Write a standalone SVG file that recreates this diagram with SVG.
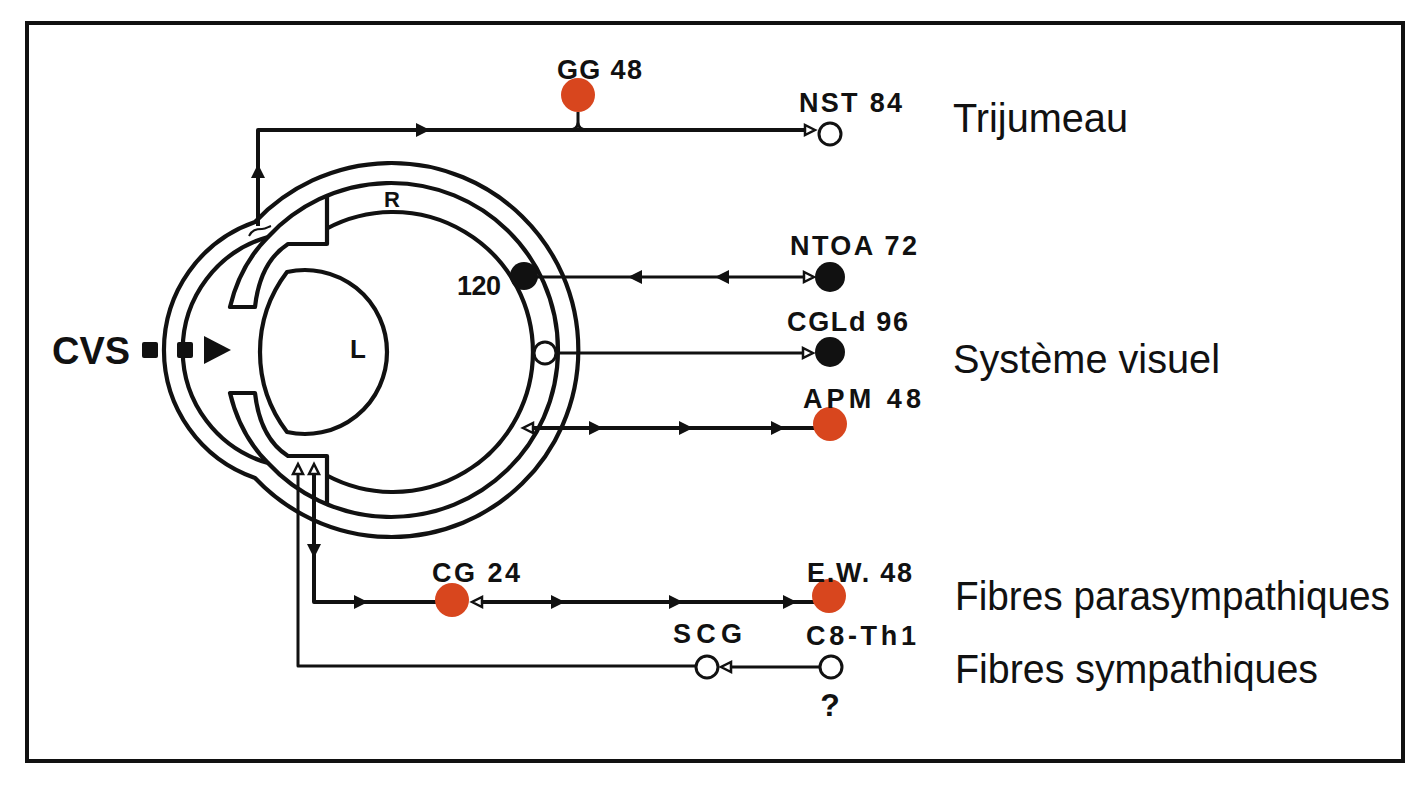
<svg xmlns="http://www.w3.org/2000/svg" xmlns:xlink="http://www.w3.org/1999/xlink" width="1428" height="796" viewBox="0 0 1428 796">
<style>
.ln{fill:none;stroke:#111;stroke-linejoin:round;stroke-linecap:butt}
.eye{fill:none;stroke:#111;stroke-width:4.2;stroke-linejoin:round}
.lab{font-family:"Liberation Sans",Arial,sans-serif;font-weight:bold;font-size:27px;fill:#111}
.reg{font-family:"Liberation Sans",Arial,sans-serif;font-size:40px;fill:#111}
.red{fill:#d8461e}
.blk{fill:#111}
.opn{fill:#fff;stroke:#111;stroke-width:3}
.oa{fill:#fff;stroke:#111;stroke-width:2.5;stroke-linejoin:miter}
</style>
<defs>
<path id="fa" d="M0,0 L-14,-7 L-14,7 Z" fill="#111"/>
<path id="oa" d="M0,0 L-10,-5 L-10,5 Z" class="oa"/>
</defs>
<rect x="27" y="23" width="1376" height="738" fill="#fff" stroke="#111" stroke-width="4"/>

<g id="eye">
<path class="eye" d="M255,222 A187,187 0 1,1 255,478 A135.5,135.5 0 0,1 255,222 Z"/>
<path class="eye" d="M268,237 A167,167 0 1,1 268,463 A117.5,117.5 0 0,1 268,237 Z"/>
<path class="eye" d="M327,228.5 A140,140 0 1,1 327,475.5"/>
<path class="eye" d="M268,237 Q240,265 230,307 L255,307 Q260,262 288,244 L327,244 L327,196"/>
<path class="eye" d="M268,463 Q240,435 230,393 L255,393 Q260,438 288,456 L327,456 L327,504"/>
<path class="eye" d="M287,272 A82,82 0 1,1 287,432 A132,132 0 0,1 287,272 Z"/>
<text class="lab" x="392" y="207" text-anchor="middle" style="font-size:22px">R</text>
<text class="lab" x="358" y="358" text-anchor="middle" style="font-size:26px">L</text>
</g>

<g id="connectors">
<path class="ln" stroke-width="4" d="M258,226 L258,130 L812,130"/>
<path class="ln" stroke-width="2" d="M249,236 C252,230 256,229 262,229 C266,229 268,227 271,226"/>
<path class="ln" stroke-width="3" d="M578,112 V124 M569,130 Q578,130 578,122 Q578,130 587,130"/>
<use xlink:href="#fa" transform="translate(258,164) rotate(-90)"/>
<use xlink:href="#fa" transform="translate(430,130)"/>
<use xlink:href="#oa" transform="translate(815,130)"/>

<path class="ln" stroke-width="3" d="M530,277 H810"/>
<use xlink:href="#fa" transform="translate(628,277) rotate(180)"/>
<use xlink:href="#fa" transform="translate(715,277) rotate(180)"/>
<use xlink:href="#oa" transform="translate(814,277)"/>

<path class="ln" stroke-width="3" d="M556,353 H808"/>
<use xlink:href="#oa" transform="translate(813,353)"/>

<path class="ln" stroke-width="4" d="M528,428 H822"/>
<use xlink:href="#oa" transform="translate(523,428) rotate(180)"/>
<use xlink:href="#fa" transform="translate(603,428)"/>
<use xlink:href="#fa" transform="translate(693,428)"/>
<use xlink:href="#fa" transform="translate(785,428)"/>

<path class="ln" stroke-width="4" d="M314,470 V602 H445"/>
<use xlink:href="#oa" transform="translate(314,464) rotate(-90)"/>
<use xlink:href="#fa" transform="translate(314,558) rotate(90)"/>
<use xlink:href="#fa" transform="translate(368,602)"/>
<path class="ln" stroke-width="4" d="M478,602 H815"/>
<use xlink:href="#oa" transform="translate(472,602) rotate(180)"/>
<use xlink:href="#fa" transform="translate(565,602)"/>
<use xlink:href="#fa" transform="translate(683,602)"/>
<use xlink:href="#fa" transform="translate(797,602)"/>

<path class="ln" stroke-width="3" d="M298,470 V666 H695"/>
<use xlink:href="#oa" transform="translate(298,464) rotate(-90)"/>
<path class="ln" stroke-width="3" d="M727,667 H819"/>
<use xlink:href="#oa" transform="translate(721,667) rotate(180)"/>
</g>

<g id="cvs">
<text class="lab" x="52" y="364" style="font-size:38px" textLength="78" lengthAdjust="spacingAndGlyphs">CVS</text>
<rect x="142" y="342" width="16" height="16" rx="2" class="blk"/>
<rect x="177" y="342" width="16" height="16" rx="2" class="blk"/>
<path d="M204,336 L231,350 L204,364 Z" class="blk"/>
</g>

<g id="gg"><circle cx="578" cy="95" r="17" class="red"/><text class="lab" x="557" y="79" textLength="85" lengthAdjust="spacing">GG 48</text></g>
<g id="nst"><circle cx="830" cy="134" r="11" class="opn"/><text class="lab" x="799" y="112" textLength="103" lengthAdjust="spacing">NST 84</text></g>
<g id="n120"><circle cx="524" cy="276" r="14" class="blk"/><text class="lab" x="457" y="295" textLength="44" lengthAdjust="spacing">120</text></g>
<g id="ntoa"><circle cx="830" cy="277" r="15" class="blk"/><text class="lab" x="790" y="255" textLength="127" lengthAdjust="spacing">NTOA 72</text></g>
<g id="cgl"><circle cx="545" cy="353" r="11" class="opn"/></g>
<g id="cgld"><circle cx="830" cy="352" r="15" class="blk"/><text class="lab" x="787" y="331" textLength="121" lengthAdjust="spacing">CGLd 96</text></g>
<g id="apm"><circle cx="830" cy="424" r="17" class="red"/><text class="lab" x="803" y="408" textLength="118" lengthAdjust="spacing">APM 48</text></g>
<g id="cg"><circle cx="452" cy="600" r="17" class="red"/><text class="lab" x="432" y="582" textLength="88" lengthAdjust="spacing">CG 24</text></g>
<g id="ew"><circle cx="829" cy="596" r="17" class="red"/><text class="lab" x="807" y="582" textLength="105" lengthAdjust="spacing">E.W. 48</text></g>
<g id="scg"><circle cx="707" cy="667" r="11" class="opn"/><text class="lab" x="673" y="643" textLength="69" lengthAdjust="spacing">SCG</text></g>
<g id="c8"><circle cx="831" cy="667" r="11" class="opn"/><text class="lab" x="806" y="645" textLength="110" lengthAdjust="spacing">C8-Th1</text><text class="lab" x="830" y="716" text-anchor="middle" style="font-size:32px">?</text></g>

<g id="regions">
<text class="reg" x="953" y="132" textLength="175" lengthAdjust="spacingAndGlyphs">Trijumeau</text>
<text class="reg" x="953" y="373" textLength="267" lengthAdjust="spacingAndGlyphs">Système visuel</text>
<text class="reg" x="955" y="610" textLength="435" lengthAdjust="spacingAndGlyphs">Fibres parasympathiques</text>
<text class="reg" x="955" y="683" textLength="363" lengthAdjust="spacingAndGlyphs">Fibres sympathiques</text>
</g>
</svg>
